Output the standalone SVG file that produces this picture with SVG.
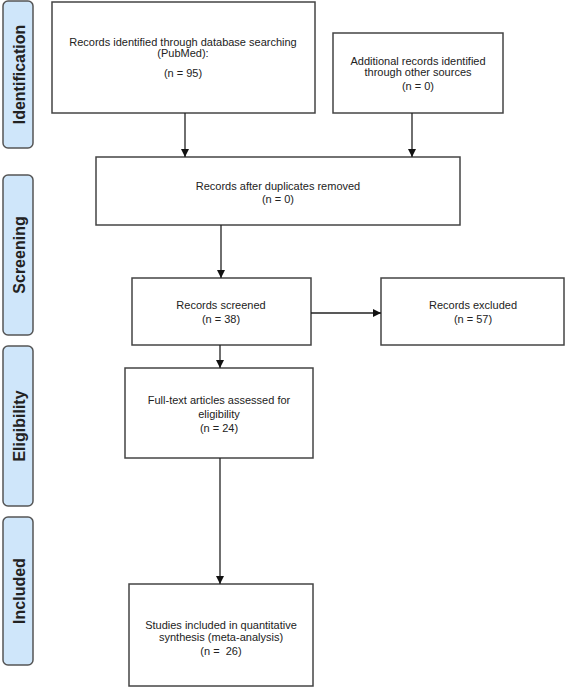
<svg xmlns="http://www.w3.org/2000/svg" width="566" height="687" viewBox="0 0 566 687">
<style>
.box{fill:#fff;stroke:#444;stroke-width:1.5}
.lab{fill:#cfe6fa;stroke:#555;stroke-width:1.5}
.t{font-family:"Liberation Sans",Arial,sans-serif;font-size:11px;fill:#222;text-anchor:middle}
.lt{font-family:"Liberation Sans",Arial,sans-serif;font-size:16px;font-weight:bold;fill:#222;text-anchor:middle}
.c{stroke:#222;stroke-width:1.3;fill:none;marker-end:url(#ah)}
</style>
<defs>
<marker id="ah" viewBox="0 0 10 10" refX="10" refY="5" markerWidth="8" markerHeight="8" markerUnits="userSpaceOnUse" orient="auto">
<path d="M0,0 L10,5 L0,10 Z" fill="#111"/>
</marker>
</defs>
<rect width="566" height="687" fill="#fff"/>
<g id="label-identification">
<rect class="lab" x="3" y="1" width="30" height="147" rx="5"/>
<text class="lt" transform="translate(24.5,74.5) rotate(-90)">Identification</text>
</g>
<g id="label-screening">
<rect class="lab" x="3" y="175" width="30" height="160" rx="5"/>
<text class="lt" transform="translate(24.5,255) rotate(-90)">Screening</text>
</g>
<g id="label-eligibility">
<rect class="lab" x="3" y="346" width="30" height="160" rx="5"/>
<text class="lt" transform="translate(24.5,426) rotate(-90)">Eligibility</text>
</g>
<g id="label-included">
<rect class="lab" x="3" y="517" width="30" height="148" rx="5"/>
<text class="lt" transform="translate(24.5,591) rotate(-90)">Included</text>
</g>
<g id="box-identified">
<rect class="box" x="52" y="2" width="263" height="111"/>
<text class="t" x="183" y="46">Records identified through database searching</text>
<text class="t" x="183" y="57">(PubMed):</text>
<text class="t" x="183" y="77">(n = 95)</text>
</g>
<g id="box-additional">
<rect class="box" x="333" y="33" width="170" height="80"/>
<text class="t" x="418" y="65">Additional records identified</text>
<text class="t" x="418" y="76">through other sources</text>
<text class="t" x="418" y="90">(n = 0)</text>
</g>
<g id="box-duplicates">
<rect class="box" x="96" y="157" width="364" height="68"/>
<text class="t" x="278" y="190">Records after duplicates removed</text>
<text class="t" x="278" y="203">(n = 0)</text>
</g>
<g id="box-screened">
<rect class="box" x="132" y="278" width="179" height="67"/>
<text class="t" x="221" y="309">Records screened</text>
<text class="t" x="221" y="323">(n = 38)</text>
</g>
<g id="box-excluded">
<rect class="box" x="381" y="278" width="183" height="67"/>
<text class="t" x="473" y="309">Records excluded</text>
<text class="t" x="473" y="323">(n = 57)</text>
</g>
<g id="box-fulltext">
<rect class="box" x="125" y="368" width="188" height="90"/>
<text class="t" x="219" y="404">Full-text articles assessed for</text>
<text class="t" x="219" y="418">eligibility</text>
<text class="t" x="219" y="432">(n = 24)</text>
</g>
<g id="box-included">
<rect class="box" x="129" y="584" width="184" height="102"/>
<text class="t" x="221" y="629">Studies included in quantitative</text>
<text class="t" x="221" y="641">synthesis (meta-analysis)</text>
<text class="t" x="221" y="655" xml:space="preserve">(n =  26)</text>
</g>
<g id="connectors">
<line class="c" x1="185" y1="113" x2="185" y2="157"/>
<line class="c" x1="412" y1="113" x2="412" y2="157"/>
<line class="c" x1="221" y1="225" x2="221" y2="278"/>
<line class="c" x1="311" y1="313" x2="381" y2="313"/>
<line class="c" x1="220" y1="345" x2="220" y2="368"/>
<line class="c" x1="220" y1="458" x2="220" y2="584"/>
</g>
</svg>
